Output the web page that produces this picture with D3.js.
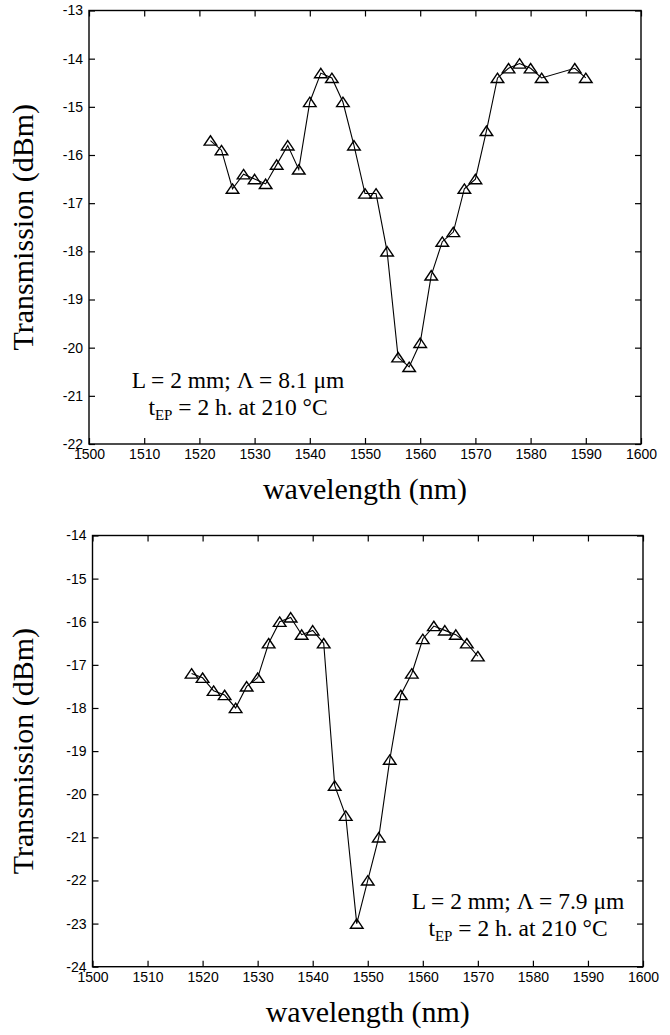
<!DOCTYPE html>
<html>
<head>
<meta charset="utf-8">
<script src="https://cdn.jsdelivr.net/npm/d3@7"></script>
<style>
  body { margin: 0; background: #fff; }
  svg { display: block; }
</style>
</head>
<body>
<svg id="chart" width="670" height="1035"></svg>
<script>
// values
const topWavelength = [1522, 1524, 1526, 1528, 1530, 1532, 1534, 1536, 1538, 1540, 1542, 1544, 1546, 1548, 1550, 1552,
  1554, 1556, 1558, 1560, 1562, 1564, 1566, 1568, 1570, 1572, 1574, 1576, 1578, 1580, 1582, 1588, 1590];
const topTransmission = [-15.7, -15.9, -16.7, -16.4, -16.5, -16.6, -16.2, -15.8, -16.3, -14.9, -14.3, -14.4, -14.9, -15.8, -16.8, -16.8,
  -18.0, -20.2, -20.4, -19.9, -18.5, -17.8, -17.6, -16.7, -16.5, -15.5, -14.4, -14.2, -14.1, -14.2, -14.4, -14.2, -14.4];

const bottomWavelength = [1518, 1520, 1522, 1524, 1526, 1528, 1530, 1532, 1534, 1536, 1538, 1540, 1542, 1544,
  1546, 1548, 1550, 1552, 1554, 1556, 1558, 1560, 1562, 1564, 1566, 1568, 1570];
const bottomTransmission = [-17.2, -17.3, -17.6, -17.7, -18.0, -17.5, -17.3, -16.5, -16.0, -15.9, -16.3, -16.2, -16.5, -19.8,
  -20.5, -23.0, -22.0, -21.0, -19.2, -17.7, -17.2, -16.4, -16.1, -16.2, -16.3, -16.5, -16.8];

const xTicks = [1500, 1510, 1520, 1530, 1540, 1550, 1560, 1570, 1580, 1590, 1600];
const topYTicks = [-22, -21, -20, -19, -18, -17, -16, -15, -14, -13];
const bottomYTicks = [-24, -23, -22, -21, -20, -19, -18, -17, -16, -15, -14];

const topNote = ["L = 2 mm; \u039B = 8.1 \u03BCm", "2 h. at 210 \u00B0C"];
const bottomNote = ["L = 2 mm; \u039B = 7.9 \u03BCm", "2 h. at 210 \u00B0C"];

const panels = [
  { wl: topWavelength, tr: topTransmission, yTicks: topYTicks, note: topNote,
    left: 89, right: 641, top: 10.5, bottom: 444, noteX: 238, noteY: 388 },
  { wl: bottomWavelength, tr: bottomTransmission, yTicks: bottomYTicks, note: bottomNote,
    left: 92.5, right: 643, top: 535.5, bottom: 966.7, noteX: 518, noteY: 909 }
];

const svg = d3.select("#chart");
const tickFont = "'Liberation Sans', Arial, Helvetica, sans-serif";
const serif = "'Liberation Serif', 'Times New Roman', Times, serif";

// open triangle like matlab's '^' marker
const triangle = "M0,-4.8L6.3,4.6L-6.3,4.6Z";

function drawPanel(p){
  const x = d3.scaleLinear().domain([1500, 1600]).range([p.left, p.right]);
  const y = d3.scaleLinear().domain(d3.extent(p.yTicks)).range([p.bottom, p.top]);
  const g = svg.append("g");
  const plain = d => String(d); // hyphen minus, as in the figure

  const axes = [
    { ax: d3.axisBottom(x).tickValues(xTicks).tickFormat(plain), tr: `translate(0,${p.bottom})`, bottom: true },
    { ax: d3.axisTop(x).tickValues(xTicks).tickFormat(""), tr: `translate(0,${p.top})` },
    { ax: d3.axisLeft(y).tickValues(p.yTicks).tickFormat(plain), tr: `translate(${p.left},0)` },
    { ax: d3.axisRight(y).tickValues(p.yTicks).tickFormat(""), tr: `translate(${p.right},0)` }
  ];
  axes.forEach(a => {
    const ag = g.append("g")
      .attr("transform", a.tr)
      .call(a.ax.tickSizeInner(-6).tickSizeOuter(0).tickPadding(6));
    ag.select(".domain").remove();
    ag.selectAll(".tick line").attr("stroke", "#000").attr("stroke-width", 1.2);
    ag.selectAll("text").attr("font-family", tickFont).attr("font-size", 14).attr("fill", "#000");
    if (a.bottom) ag.selectAll(".tick text").attr("y", 15).attr("dy", 0);
  });

  // box
  g.append("rect")
    .attr("x", p.left).attr("y", p.top)
    .attr("width", p.right - p.left).attr("height", p.bottom - p.top)
    .attr("fill", "none").attr("stroke", "#000").attr("stroke-width", 1.4);

  const line = d3.line().x((d, i) => x(p.wl[i])).y(d => y(d));
  g.append("path")
    .datum(p.tr)
    .attr("d", line)
    .attr("fill", "none")
    .attr("stroke", "#000")
    .attr("stroke-width", 1.1);

  g.append("g")
    .selectAll("path")
    .data(p.tr)
    .enter()
    .append("path")
      .attr("d", triangle)
      .attr("transform", (d, i) => `translate(${x(p.wl[i])},${y(d)})`)
      .attr("fill", "none")
      .attr("stroke", "#000")
      .attr("stroke-width", 1.4);

  // axis titles
  g.append("text")
    .attr("x", (p.left + p.right) / 2)
    .attr("y", p.bottom + 55)
    .attr("text-anchor", "middle")
    .attr("font-family", serif)
    .attr("font-size", 30)
    .text("wavelength (nm)");

  g.append("text")
    .attr("transform", `translate(33,${(p.top + p.bottom) / 2}) rotate(-90)`)
    .attr("text-anchor", "middle")
    .attr("font-family", serif)
    .attr("font-size", 30)
    .text("Transmission (dBm)");

  // annotation
  g.append("text")
    .attr("x", p.noteX).attr("y", p.noteY)
    .attr("text-anchor", "middle")
    .attr("font-family", serif)
    .attr("font-size", 23.5)
    .text(p.note[0]);

  const t2 = g.append("text")
    .attr("x", p.noteX).attr("y", p.noteY + 27)
    .attr("text-anchor", "middle")
    .attr("font-family", serif)
    .attr("font-size", 23.5);
  t2.append("tspan").text("t");
  t2.append("tspan").attr("font-size", 15).attr("dy", 5).text("EP");
  t2.append("tspan").attr("dy", -5).text(" = " + p.note[1]);
}

panels.forEach(drawPanel);
</script>
</body>
</html>
